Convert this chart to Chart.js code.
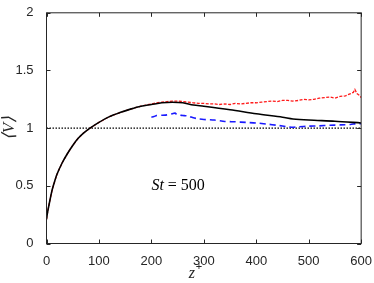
<!DOCTYPE html>
<html><head><meta charset="utf-8">
<script src="https://cdn.jsdelivr.net/npm/chart.js@4"></script>
<style>html,body{margin:0;padding:0;background:#fff}#wrap{width:374px;height:283px}</style>
</head><body><div id="wrap"><canvas id="c" width="374" height="283"></canvas></div>
<script>
const xTicks = [0,100,200,300,400,500,600];
const yTicks = [0,0.5,1,1.5,2];
const zBlack = [0,2,5,10,13,20,30,40,50,60,70,83,100,120,140,160,180,200,220,240,260,280,300,350,400,450,470,500,550,600];
const vBlack = [0.21,0.27,0.34,0.45,0.5,0.6,0.7,0.78,0.85,0.91,0.955,1.0,1.05,1.1,1.135,1.165,1.19,1.205,1.22,1.225,1.22,1.2,1.19,1.16,1.125,1.095,1.08,1.07,1.06,1.045];
const zRed = [0,2,5,10,13,20,30,40,50,60,70,83,100,120,140,160,180,200,210,220,230,240,250,260,270,280,290,300,310,320,330,340,350,360,370,380,390,400,410,420,430,440,450,460,470,480,490,500,510,520,530,540,550,560,570,575,580,585,588,592,595,598,600];
const vRed = [0.21,0.27,0.34,0.45,0.5,0.6,0.7,0.78,0.85,0.91,0.955,1.0,1.05,1.1,1.135,1.165,1.19,1.21,1.22,1.225,1.23,1.235,1.235,1.23,1.225,1.22,1.215,1.215,1.21,1.21,1.205,1.21,1.205,1.215,1.21,1.215,1.22,1.22,1.225,1.23,1.235,1.23,1.24,1.24,1.235,1.24,1.25,1.245,1.25,1.26,1.265,1.27,1.26,1.275,1.28,1.29,1.30,1.31,1.335,1.3,1.29,1.28,1.265];
const zBlue = [200,205,210,220,230,240,245,250,260,270,280,290,300,320,340,360,380,400,420,440,460,470,480,500,520,540,560,580,590,600];
const vBlue = [1.095,1.1,1.11,1.112,1.115,1.125,1.13,1.115,1.11,1.105,1.09,1.08,1.075,1.07,1.058,1.055,1.05,1.045,1.035,1.025,1.012,1.008,1.012,1.017,1.02,1.025,1.028,1.032,1.04,1.038];
const refLine = [1,1];
const refZ = [0,600];
const annotText = 'St = 500';
const annotPos = [200, 0.5];

const pts = (xs, ys) => xs.map((x,i)=>({x:x,y:ys[i]}));
const axisColor = '#262626';

const boxPlugin = {
  id:'box',
  afterDraw(chart){
    const ctx = chart.ctx, a = chart.chartArea, xs = chart.scales.x, ys = chart.scales.y;
    ctx.save();
    ctx.strokeStyle = axisColor; ctx.lineWidth = 1;
    ctx.strokeRect(a.left, a.top, a.right-a.left, a.bottom-a.top);
    const L = 4;
    ctx.beginPath();
    xTicks.forEach(v=>{ const p = Math.round(xs.getPixelForValue(v))+0.5;
      ctx.moveTo(p,a.bottom); ctx.lineTo(p,a.bottom-L); ctx.moveTo(p,a.top); ctx.lineTo(p,a.top+L); });
    yTicks.forEach(v=>{ const p = Math.round(ys.getPixelForValue(v))+0.5;
      ctx.moveTo(a.left,p); ctx.lineTo(a.left+L,p); ctx.moveTo(a.right,p); ctx.lineTo(a.right-L,p); });
    ctx.stroke();
    // annotation
    const tx = xs.getPixelForValue(annotPos[0]), ty = ys.getPixelForValue(annotPos[1]);
    ctx.fillStyle = '#000'; ctx.textBaseline = 'middle'; ctx.textAlign='left';
    ctx.font = 'italic 16px "Liberation Serif"';
    const parts = annotText.split(' = ');
    ctx.fillText(parts[0], tx, ty);
    let w = ctx.measureText(parts[0]).width;
    ctx.font = '16px "Liberation Serif"';
    ctx.fillText(' = ' + parts[1], tx + w, ty);
    // x title
    const cx = (a.left+a.right)/2;
    ctx.fillStyle = '#262626';
    ctx.font = 'italic 16px "Liberation Serif"';
    ctx.fillText('z', cx - 15, 274);
    ctx.font = '11px "Liberation Sans"';
    ctx.fillText('+', cx - 8, 267);
    // y title
    ctx.save();
    ctx.translate(10, (a.top+a.bottom)/2);
    ctx.rotate(-Math.PI/2);
    ctx.textAlign = 'center';
    ctx.font = 'italic 17px "Liberation Serif"';
    ctx.fillText('\u27E8V\u27E9', 0, 0);
    ctx.restore();
    ctx.restore();
  }
};

new Chart(document.getElementById('c'), {
  type:'line',
  data:{ datasets:[
    {data:pts(zBlack,vBlack), borderColor:'#000', borderWidth:1.6, pointRadius:0, tension:0.3},
    {data:pts(zRed,vRed), borderColor:'#ff1a1a', borderWidth:1.3, borderDash:[3,1.5], pointRadius:0, tension:0},
    {data:pts(zBlue,vBlue), borderColor:'#1a1aff', borderWidth:1.6, borderDash:[6,4], pointRadius:0, tension:0.2},
    {data:pts(refZ,refLine), borderColor:'#000', borderWidth:1.2, borderDash:[1.5,1.5], pointRadius:0, fill:false}
  ]},
  options:{
    responsive:false, animation:false, devicePixelRatio:1,
    layout:{padding:{top:4,right:11.5,left:0,bottom:0}},
    plugins:{legend:{display:false}, tooltip:{enabled:false}},
    scales:{
      x:{type:'linear', min:0, max:600, border:{display:false},
        grid:{display:false},
        afterFit(s){ s.height = 39.5; },
        afterBuildTicks(s){ s.ticks = xTicks.map(v=>({value:v})); },
        ticks:{color:axisColor, font:{family:'"Liberation Sans"', size:13}, padding:2, maxRotation:0,
          callback:(v)=>String(v)}},
      y:{type:'linear', min:0, max:2, border:{display:false},
        grid:{display:false},
        afterFit(s){ s.width = 46.5; },
        afterBuildTicks(s){ s.ticks = yTicks.map(v=>({value:v})); },
        ticks:{color:axisColor, font:{family:'"Liberation Sans"', size:13}, padding:5,
          callback:(v)=>String(v)}}
    }
  },
  plugins:[boxPlugin]
});
</script></body></html>
